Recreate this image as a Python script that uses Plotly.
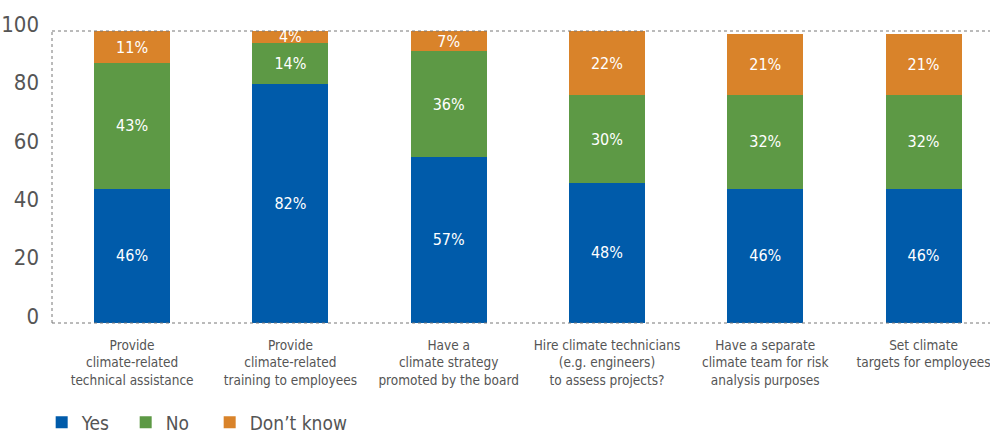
import plotly.graph_objects as go

categories = [
    "Provide<br>climate-related<br>technical assistance",
    "Provide<br>climate-related<br>training to employees",
    "Have a<br>climate strategy<br>promoted by the board",
    "Hire climate technicians<br>(e.g. engineers)<br>to assess projects?",
    "Have a separate<br>climate team for risk<br>analysis purposes",
    "Set climate<br>targets for employees",
]
yes = [46, 82, 57, 48, 46, 46]
no = [43, 14, 36, 30, 32, 32]
dont_know = [11, 4, 7, 22, 21, 21]
series_names = ["Yes", "No", "Don\u2019t know"]
colors = ["#005BAA", "#5D9945", "#D9832A"]
y_ticks = [0, 20, 40, 60, 80, 100]

FONT = "DejaVu Sans Condensed, Roboto, sans-serif"
GREY = "#555555"

fig = go.Figure()
x = list(range(len(categories)))
for name, vals, col in zip(series_names, [yes, no, dont_know], colors):
    fig.add_trace(go.Bar(
        x=x, y=vals, name=name, marker_color=col, marker_line_width=0,
        width=0.48, text=[f"{v}%" for v in vals], textposition="inside",
        insidetextanchor="middle", constraintext="none", cliponaxis=False,
        textfont=dict(family=FONT, size=16, color="white"),
        showlegend=False,
    ))
    # legend entry with a larger square swatch
    fig.add_trace(go.Scatter(
        x=[None], y=[None], mode="markers", name=name,
        marker=dict(symbol="square", size=16, color=col),
    ))

# blank trailing slot so the last legend label has room with fixed entry widths
fig.add_trace(go.Scatter(
    x=[None], y=[None], mode="markers", name=" ",
    marker=dict(symbol="square", size=16, color="rgba(0,0,0,0)"),
))

dot = dict(color="#777777", width=1, dash="dot")
fig.add_shape(type="line", xref="paper", yref="paper", x0=0, x1=1, y0=1, y1=1, line=dot)
fig.add_shape(type="line", xref="paper", yref="paper", x0=0, x1=1, y0=0, y1=0, line=dot)
fig.add_shape(type="line", xref="paper", yref="paper", x0=0, x1=0, y0=0, y1=1, line=dot)

fig.update_layout(
    width=990, height=433,
    margin=dict(l=52, r=0, t=31, b=110, autoexpand=False),
    barmode="stack",
    plot_bgcolor="white", paper_bgcolor="white",
    font=dict(family=FONT, color=GREY),
    xaxis=dict(
        tickmode="array", tickvals=x, ticktext=categories, tickangle=0,
        range=[-0.506, 5.42], showgrid=False, zeroline=False, showline=False,
        tickfont=dict(size=13.5, color=GREY), ticks="",
        ticklabelstandoff=12, ticklabeloverflow="allow",
    ),
    yaxis=dict(
        range=[0, 100], tickvals=y_ticks, showgrid=False, zeroline=False,
        showline=False, tickfont=dict(size=22, color=GREY), ticks="",
        ticklabelshift=-7, ticklabelstandoff=12,
    ),
    legend=dict(
        orientation="h", x=-0.011, xanchor="left", y=-0.275, yanchor="top",
        font=dict(size=19, color=GREY), itemsizing="constant",
        traceorder="normal", entrywidth=39,
    ),
)

fig.write_html("out.html")
